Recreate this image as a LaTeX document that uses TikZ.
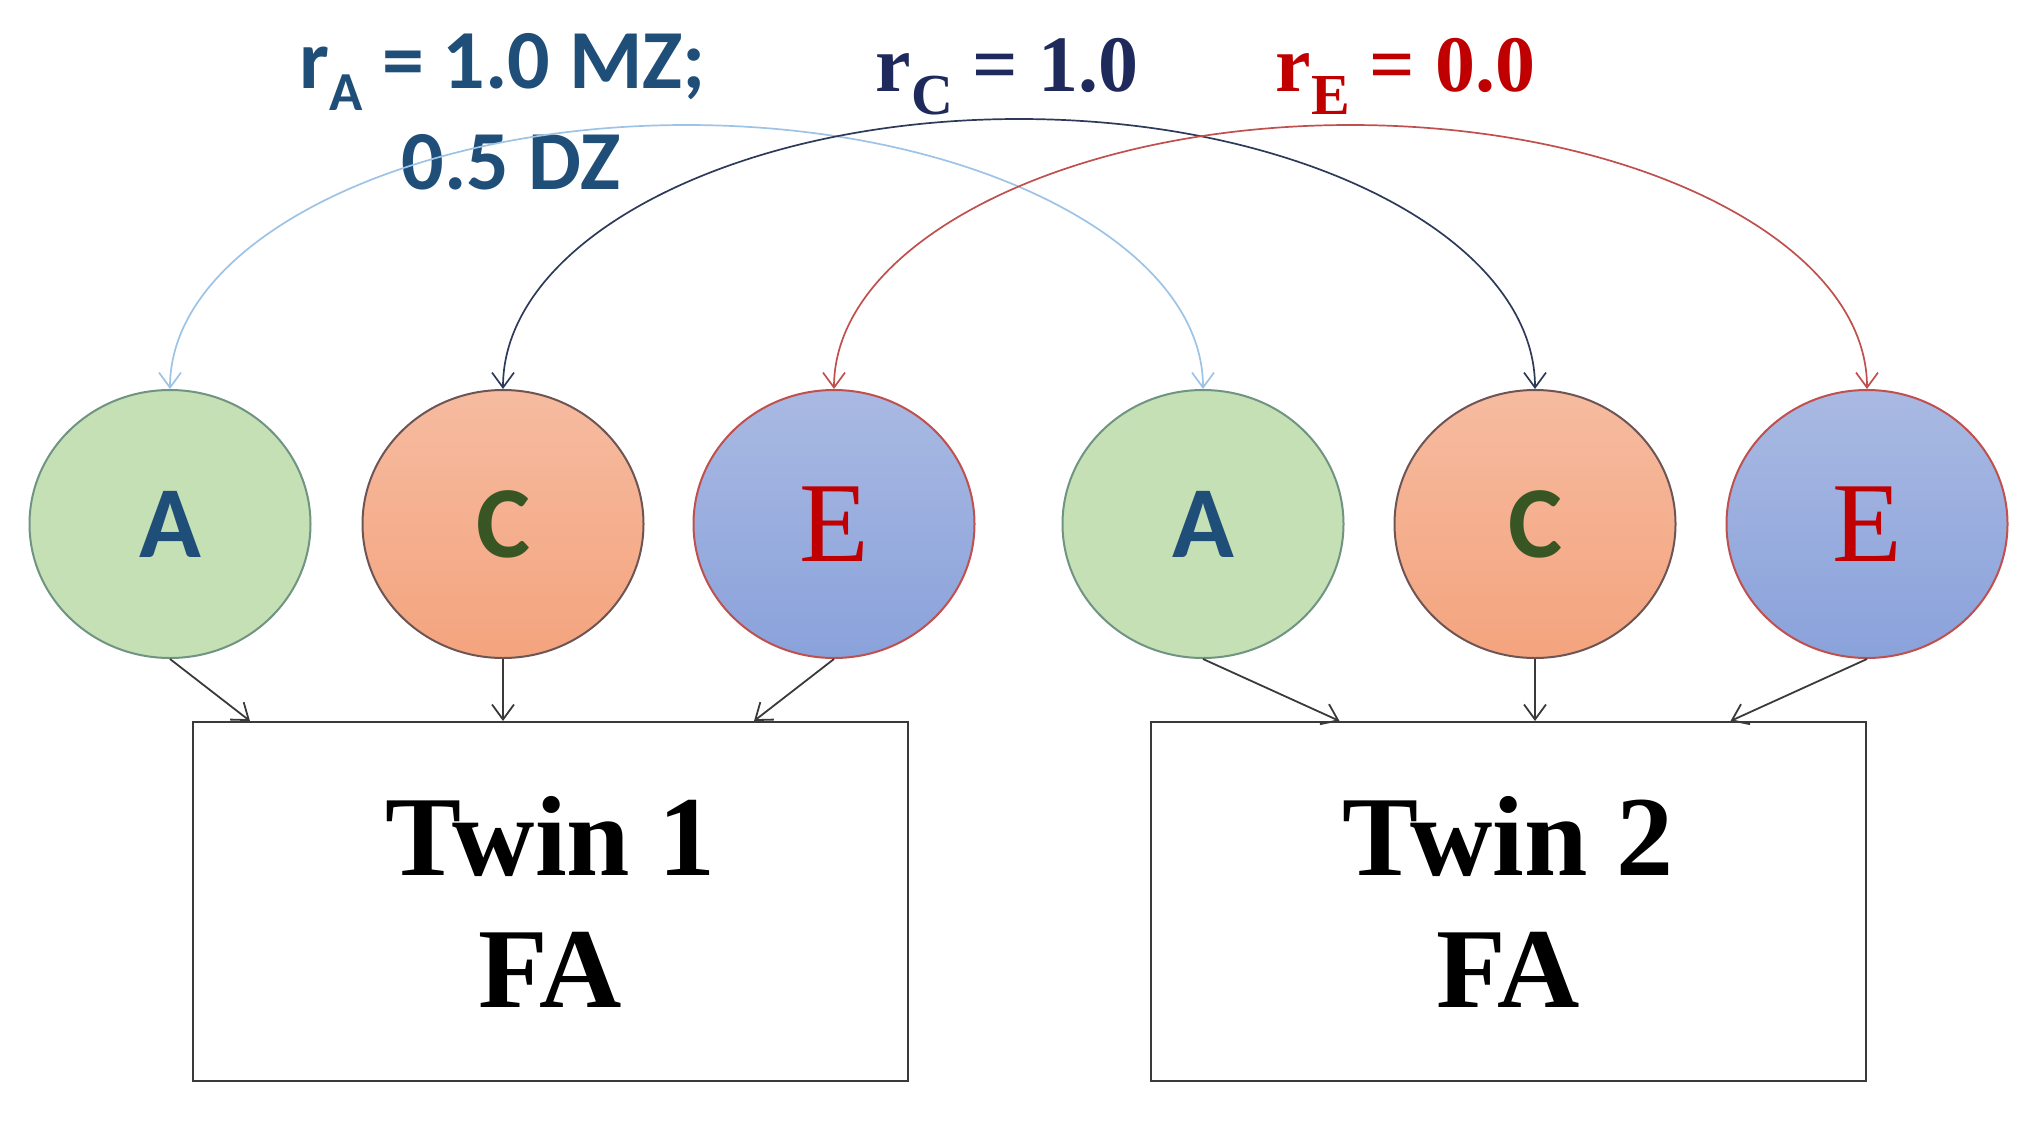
\documentclass[tikz,border=0pt]{standalone}
\usepackage{fontspec}
\setmainfont{Liberation Serif}
\newfontfamily\calfont{Carlito}
\usetikzlibrary{shapes.geometric,arrows.meta,calc}
\definecolor{atext}{HTML}{1F4E79}
\definecolor{ctext}{HTML}{375623}
\definecolor{etext}{HTML}{C00000}
\definecolor{rctext}{HTML}{1F2A5C}
\definecolor{afill}{HTML}{C5E0B4}
\definecolor{aline}{HTML}{6F9482}
\definecolor{ctop}{HTML}{F6BBA0}
\definecolor{cbot}{HTML}{F4A47E}
\definecolor{cline}{HTML}{6E5555}
\definecolor{etop}{HTML}{A9B9E2}
\definecolor{ebot}{HTML}{8AA2DB}
\definecolor{eline}{HTML}{C0504D}
\definecolor{arcA}{HTML}{9DC3E6}
\definecolor{arcC}{HTML}{2E3A59}
\definecolor{arcE}{HTML}{C0504D}
\definecolor{pathcol}{HTML}{3A3A3A}
\begin{document}
\begin{tikzpicture}[x=1pt,y=-1pt,
  lat/.style={ellipse, minimum width=281pt, minimum height=268pt, inner sep=0pt, line width=2pt},
  latA/.style={lat, fill=afill, draw=aline},
  latC/.style={lat, top color=ctop, bottom color=cbot, draw=cline},
  latE/.style={lat, top color=etop, bottom color=ebot, draw=eline},
  obs/.style={draw=pathcol, line width=2pt, fill=white, minimum width=715pt, minimum height=359pt, inner sep=0pt, align=center, font=\bfseries\fontsize{114}{132}\selectfont},
  corr/.style={line width=1.7pt, {Straight Barb[length=15pt,width=22pt]}-{Straight Barb[length=15pt,width=22pt]}},
  load/.style={draw=pathcol, line width=1.8pt, -{Straight Barb[length=15pt,width=22pt]}},
  sanslet/.style={font=\calfont\bfseries\fontsize{102}{102}\selectfont},
  seriflet/.style={font=\fontsize{114}{114}\selectfont}
]
\useasboundingbox (0,0) rectangle (2040,1125);

% latent variables
\node[latA] (A1) at (170,524) {};
\node[latC] (C1) at (503,524) {};
\node[latE] (E1) at (834,524) {};
\node[latA] (A2) at (1203,524) {};
\node[latC] (C2) at (1535,524) {};
\node[latE] (E2) at (1867,524) {};
\node[sanslet, text=atext] (lA1) at (A1.center) {A};
\node[sanslet, text=ctext] (lC1) at (C1.center) {C};
\node[seriflet, text=etext] (lE1) at (E1.center) {E};
\node[sanslet, text=atext] (lA2) at (A2.center) {A};
\node[sanslet, text=ctext] (lC2) at (C2.center) {C};
\node[seriflet, text=etext] (lE2) at (E2.center) {E};

% observed
\node[obs] (T1) at (550.5,901.5) {Twin 1\\FA};
\node[obs] (T2) at (1508,901.5) {Twin 2\\FA};

% loadings
\coordinate (t1a) at ($(T1.north west)+(58,0)$);
\coordinate (t1c) at (T1.north -| C1.south);
\coordinate (t1e) at ($(T1.north west)+(562,0)$);
\coordinate (t2a) at ($(T2.north west)+(190,0)$);
\coordinate (t2c) at (T2.north -| C2.south);
\coordinate (t2e) at ($(T2.north east)+(-136,0)$);
\draw[load] (A1.south) -- (t1a);
\draw[load] (C1.south) -- (t1c);
\draw[load] (E1.south) -- (t1e);
\draw[load] (A2.south) -- (t2a);
\draw[load] (C2.south) -- (t2c);
\draw[load] (E2.south) -- (t2e);

% labels
\node[anchor=base, text=atext, font=\calfont\bfseries\fontsize{84}{84}\selectfont] (rA1) at (503,88)
  {r\raisebox{-22pt}{\fontsize{55}{55}\selectfont A} = 1.0 MZ;};
\node[anchor=base, text=atext, font=\calfont\bfseries\fontsize{84}{84}\selectfont] (rA2) at (511,189) {0.5 DZ};
\node[anchor=base west, text=rctext, font=\bfseries\fontsize{80}{80}\selectfont] (rC) at (872,91)
  {r\raisebox{-23pt}{\fontsize{58}{58}\selectfont C} = 1.0};
\node[anchor=base west, text=etext, font=\bfseries\fontsize{80}{80}\selectfont] (rE) at (1272,91)
  {r\raisebox{-23pt}{\fontsize{58}{58}\selectfont E} = 0.0};

% correlations (half ellipses from twin-1 factor to twin-2 factor)
\draw[corr, draw=arcA] (A1.north) arc[start angle=180, end angle=360, x radius=516.5, y radius=264];
\draw[corr, draw=arcC] (C1.north) arc[start angle=180, end angle=360, x radius=516, y radius=270];
\draw[corr, draw=arcE] (E1.north) arc[start angle=180, end angle=360, x radius=516.5, y radius=264];
\end{tikzpicture}
\end{document}
